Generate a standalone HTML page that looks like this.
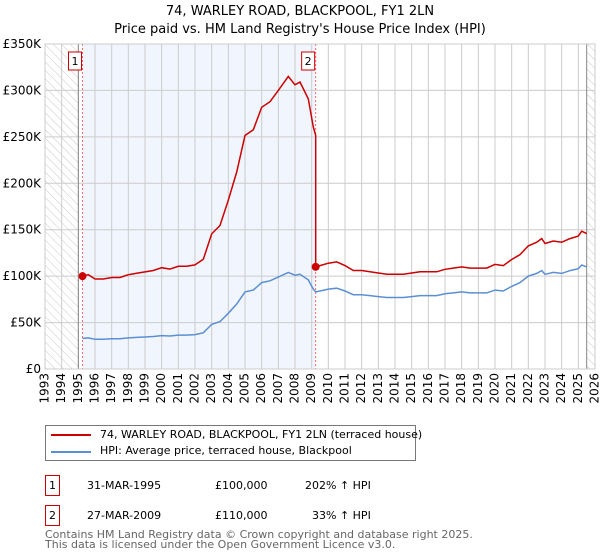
<!DOCTYPE html>
<html><head><meta charset="utf-8"><style>
body{margin:0;background:#fff;font-family:"DejaVu Sans","Liberation Sans",sans-serif;}
#wrap{position:relative;width:600px;height:560px;overflow:hidden;}
.t{position:absolute;left:0;width:600px;text-align:center;font-size:13px;color:#000;}
</style></head><body>
<div id="wrap">
<div class="t" style="top:4px">74, WARLEY ROAD, BLACKPOOL, FY1 2LN</div>
<div class="t" style="top:22px">Price paid vs. HM Land Registry's House Price Index (HPI)</div>
<svg id="chart" width="600" height="420" style="position:absolute;left:0;top:0">
<defs><pattern id="hatch" width="6" height="6" patternUnits="userSpaceOnUse" patternTransform="rotate(-45)"><line x1="0" y1="0" x2="0" y2="6" stroke="#bbb" stroke-width="0.8"/></pattern></defs>
</svg>
<div style="position:absolute;left:45px;top:425px;width:369px;height:34px;border:1px solid #777;font-size:11px;">
 <div style="position:absolute;left:5px;top:8px;width:40px;height:2px;background:#cc0000"></div>
 <div style="position:absolute;left:54px;top:2px;white-space:nowrap">74, WARLEY ROAD, BLACKPOOL, FY1 2LN (terraced house)</div>
 <div style="position:absolute;left:5px;top:25px;width:40px;height:2px;background:#5b8fd4"></div>
 <div style="position:absolute;left:54px;top:18px;white-space:nowrap">HPI: Average price, terraced house, Blackpool</div>
</div>
<div style="font-size:11px;">
 <div style="position:absolute;left:45px;top:475px;width:13px;height:19px;border:1px solid #cc0000;text-align:center;line-height:19px">1</div>
 <div style="position:absolute;left:87px;top:479px">31-MAR-1995</div>
 <div style="position:absolute;left:215px;top:479px">£100,000</div>
 <div style="position:absolute;left:305px;top:479px">202% ↑ HPI</div>
 <div style="position:absolute;left:45px;top:505px;width:13px;height:19px;border:1px solid #cc0000;text-align:center;line-height:19px">2</div>
 <div style="position:absolute;left:87px;top:509px">27-MAR-2009</div>
 <div style="position:absolute;left:215px;top:509px">£110,000</div>
 <div style="position:absolute;left:312px;top:509px">33% ↑ HPI</div>
</div>
<div style="position:absolute;left:45px;top:530px;font-size:11px;color:#666;line-height:10px;white-space:nowrap">Contains HM Land Registry data © Crown copyright and database right 2025.<br>This data is licensed under the Open Government Licence v3.0.</div>
</div>
<script>
const hpiYears=[1995.25,1995.6,1996,1996.5,1997,1997.5,1998,1998.5,1999,1999.5,2000,2000.5,2001,2001.5,2002,2002.5,2003,2003.5,2004,2004.5,2005,2005.5,2006,2006.5,2007,2007.6,2008,2008.3,2008.8,2009.1,2009.24,2009.5,2010,2010.5,2011,2011.5,2012,2012.5,2013,2013.5,2014,2014.5,2015,2015.5,2016,2016.5,2017,2017.5,2018,2018.5,2019,2019.5,2020,2020.5,2021,2021.5,2022,2022.5,2022.8,2023,2023.5,2024,2024.5,2025,2025.2,2025.5];
const hpiValues=[33,33.5,32,32,32.5,32.5,33.5,34,34.5,35,36,35.5,36.5,36.5,37,39,48,51,60,70,83,85,93,95,99,104,101,102,96,86,83,84,86,87,84,80,80,79,78,77,77,77,78,79,79,79,81,82,83,82,82,82,85,84,89,93,100,103,106,102,104,103,106,108,112,110];
const saleYears=[1995.25,2009.24];
const saleValues=[100000,110000];
const yTicks=[0,50000,100000,150000,200000,250000,300000,350000];
const yTickLabels=["£0","£50K","£100K","£150K","£200K","£250K","£300K","£350K"];
const xYears=[1993,1994,1995,1996,1997,1998,1999,2000,2001,2002,2003,2004,2005,2006,2007,2008,2009,2010,2011,2012,2013,2014,2015,2016,2017,2018,2019,2020,2021,2022,2023,2024,2025,2026];

const L=45,R=595,T=44,B=369,X0=1993,X1=2026,YMAX=350000;
const xs=y=>L+(y-X0)*(R-L)/(X1-X0);
const ys=v=>B-v*(B-T)/YMAX;
const svg=document.getElementById('chart');
const NS='http://www.w3.org/2000/svg';
function mk(tag,attrs){const e=document.createElementNS(NS,tag);for(const k in attrs)e.setAttribute(k,attrs[k]);svg.appendChild(e);return e;}

let e;
e=mk('rect',{x:xs(saleYears[0]),y:T,width:xs(saleYears[1])-xs(saleYears[0]),height:B-T,fill:'#eef3fd',opacity:0.8});

e=mk('rect',{x:L,y:T,width:xs(1995)-L,height:B-T,fill:'url(#hatch)'});

e=mk('rect',{x:xs(2025.5),y:T,width:R-xs(2025.5),height:B-T,fill:'url(#hatch)'});


xYears.forEach(yr=>{
 const g=mk('line',{x1:xs(yr),x2:xs(yr),y1:T,y2:B,stroke:'#cccccc','stroke-width':1});
 
 const t=mk('text',{x:0,y:0,'font-size':12,'text-anchor':'end','dominant-baseline':'middle',transform:`translate(${xs(yr)},373) rotate(-90)`});
 t.textContent=yr;
 
});
yTicks.forEach((v,i)=>{
 const g=mk('line',{x1:L,x2:R,y1:ys(v),y2:ys(v),stroke:'#cccccc','stroke-width':1});
 
 const t=mk('text',{x:L-4,y:ys(v)+4,'font-size':12,'text-anchor':'end'});
 t.textContent=yTickLabels[i];
 
});
e=mk('line',{x1:xs(1995),x2:xs(1995),y1:T,y2:B,stroke:'#888','stroke-width':1});

e=mk('line',{x1:xs(2025.5),x2:xs(2025.5),y1:T,y2:B,stroke:'#888','stroke-width':1});


saleYears.forEach((yr,i)=>{
 const l=mk('line',{x1:xs(yr),x2:xs(yr),y1:T,y2:B,stroke:'#ff6666','stroke-width':1,'stroke-dasharray':'2,2'});
 
 const r=mk('rect',{x:xs(yr)-14,y:52,width:13,height:18,fill:'#fff',stroke:'#cc0000'});
 
 const t=mk('text',{x:xs(yr)-7.5,y:65,'font-size':11,'text-anchor':'middle'});
 t.textContent=String(i+1);
 
});

const hp=hpiYears.map((yr,i)=>xs(yr).toFixed(1)+','+ys(hpiValues[i]*1000).toFixed(1)).join(' ');
e=mk('polyline',{points:hp,fill:'none',stroke:'#5b8fd4','stroke-width':1.5});


const pts=[];
hpiYears.forEach((yr,i)=>{
 let k=0;for(let j=0;j<saleYears.length;j++)if(yr>=saleYears[j])k=j;
 const base=hpiValues[hpiYears.indexOf(saleYears[k])];
 const v=saleValues[k]*hpiValues[i]/base;
 if(k===1&&yr===saleYears[1]){const prevBase=hpiValues[hpiYears.indexOf(saleYears[0])];pts.push([xs(yr),ys(saleValues[0]*hpiValues[i]/prevBase)]);}
 pts.push([xs(yr),ys(v)]);
});
e=mk('polyline',{points:pts.map(p=>p[0].toFixed(1)+','+p[1].toFixed(1)).join(' '),fill:'none',stroke:'#cc0000','stroke-width':1.5});

saleYears.forEach((yr,i)=>{
 const c=mk('circle',{cx:xs(yr),cy:ys(saleValues[i]),r:4,fill:'#cc0000'});
 
});
e=mk('rect',{x:L,y:T,width:R-L,height:B-T,fill:'none',stroke:'#ccc'});

</script>
</body></html>
